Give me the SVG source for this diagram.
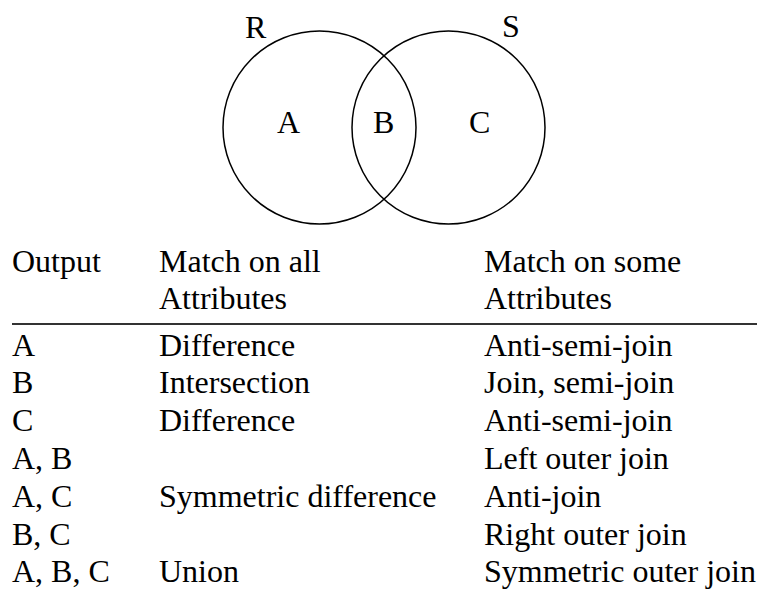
<svg xmlns="http://www.w3.org/2000/svg" width="759" height="590" viewBox="0 0 759 590">
<style>
.c{fill:none;stroke:#000;stroke-width:1.5}
</style>
<rect width="759" height="590" fill="#fff"/>
<g font-family="'Liberation Serif', 'Times New Roman', Times, 'DejaVu Serif', serif" font-size="32" fill="#000">
<g id="venn">
<g id="R"><circle class="c" cx="319.5" cy="127.5" r="96.5"/><text x="245" y="38">R</text></g>
<g id="S"><circle class="c" cx="448.5" cy="127.5" r="96.5"/><text x="502" y="37">S</text></g>
<g id="regions"><text x="277" y="133">A</text><text x="373" y="133">B</text><text x="469" y="133">C</text></g>
</g>
<g id="connectors"></g>
<g id="table">
<text x="12" y="272">Output</text>
<text x="159" y="272">Match on all</text>
<text x="159" y="309">Attributes</text>
<text x="484" y="272">Match on some</text>
<text x="484" y="309">Attributes</text>
<line x1="12" y1="324" x2="757" y2="324" stroke="#333" stroke-width="2"/>
<text x="12" y="355.5">A</text><text x="159" y="355.5">Difference</text><text x="484" y="355.5">Anti-semi-join</text>
<text x="12" y="393.3">B</text><text x="159" y="393.3">Intersection</text><text x="484" y="393.3">Join, semi-join</text>
<text x="12" y="431.1">C</text><text x="159" y="431.1">Difference</text><text x="484" y="431.1">Anti-semi-join</text>
<text x="12" y="468.9">A, B</text><text x="484" y="468.9">Left outer join</text>
<text x="12" y="506.7">A, C</text><text x="159" y="506.7">Symmetric difference</text><text x="484" y="506.7">Anti-join</text>
<text x="12" y="544.5">B, C</text><text x="484" y="544.5">Right outer join</text>
<text x="12" y="582.3">A, B, C</text><text x="159" y="582.3">Union</text><text x="484" y="582.3">Symmetric outer join</text>
</g>
</g>
</svg>
